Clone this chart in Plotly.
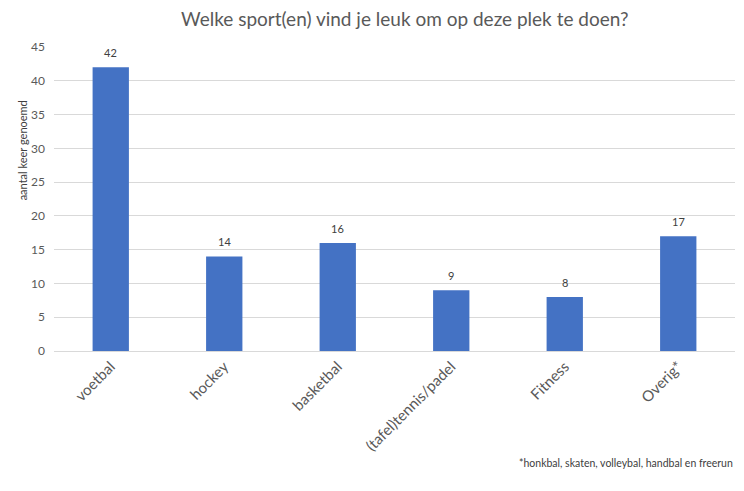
import plotly.graph_objects as go

sports = ["voetbal", "hockey", "basketbal", "(tafel)tennis/padel", "Fitness", "Overig*"]
counts = [42, 14, 16, 9, 8, 17]
y_ticks = [0, 5, 10, 15, 20, 25, 30, 35, 40, 45]

FONT = "Lato, Open Sans, sans-serif"
GREY = "#595959"

fig = go.Figure()
fig.add_trace(go.Bar(
    x=sports, y=counts,
    marker=dict(color="#4472C4", line=dict(width=0)),
))

# value labels sit a little above each bar, like the Excel original
for s, c in zip(sports, counts):
    fig.add_annotation(x=s, y=c, text=str(c), showarrow=False,
                       yanchor="bottom", yshift=6,
                       font=dict(size=11, color="#404040", family=FONT))

# page body has an 8px margin, so keep the figure inside the window
fig.update_layout(
    width=728, height=475,
    margin=dict(l=46, r=1, t=39, b=132),
    paper_bgcolor="white", plot_bgcolor="white",
    bargap=0.68,
    showlegend=False,
    font=dict(family=FONT, color=GREY),
    title=dict(text="Welke sport(en) vind je leuk om op deze plek te doen?",
               x=0.545, xanchor="center", y=1.0, yanchor="top",
               pad=dict(t=5),
               font=dict(size=19, color=GREY, family=FONT)),
)
fig.update_yaxes(range=[0, 45], tickvals=y_ticks, showgrid=True, gridcolor="#D9D9D9",
                 gridwidth=1, zeroline=False, showline=False, ticks="",
                 ticklabelstandoff=8,
                 tickfont=dict(size=12, color=GREY, family=FONT))
fig.update_xaxes(tickangle=-45, showline=True, linecolor="#D9D9D9", linewidth=1,
                 ticks="", tickfont=dict(size=15, color=GREY, family=FONT))

fig.add_annotation(text="aantal keer genoemd", xref="paper", yref="paper",
                   x=-0.047, y=0.66, xanchor="center", yanchor="middle",
                   textangle=-90, showarrow=False,
                   font=dict(size=11, color="#404040", family=FONT))
fig.add_annotation(text="*honkbal, skaten, volleybal, handbal en freerun",
                   xref="paper", yref="paper", x=1.0, y=-0.368,
                   xanchor="right", yanchor="middle", showarrow=False,
                   font=dict(size=10.5, color="#404040", family=FONT))

fig.write_html("out.html")
